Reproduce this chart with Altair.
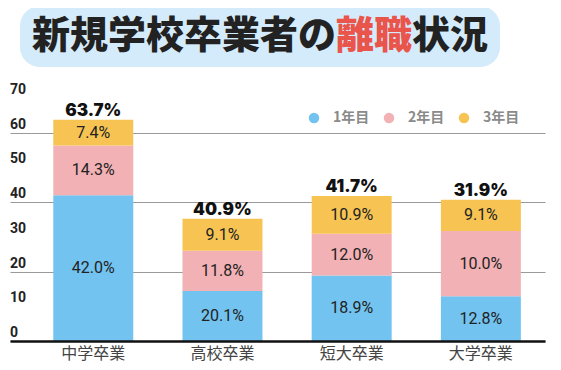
import altair as alt
import pandas as pd

categories = ["中学卒業", "高校卒業", "短大卒業", "大学卒業"]
years = ["1年目", "2年目", "3年目"]
# printed rates (%)
rate_y1 = [42.0, 20.1, 18.9, 12.8]
rate_y2 = [14.3, 11.8, 12.0, 10.0]
rate_y3 = [7.4, 9.1, 10.9, 9.1]
totals = [63.7, 40.9, 41.7, 31.9]
# segment heights as drawn in the picture
drawn_y1 = [42.0, 14.4, 18.9, 12.9]
drawn_y2 = [14.3, 11.6, 12.0, 18.8]
drawn_y3 = [7.4, 9.2, 10.9, 9.0]
y_ticks = [0, 10, 20, 30, 40, 50, 60, 70]
colors = ["#72c3ef", "#f2b1b4", "#f7c453"]
title_parts = ["新規学校卒業者の", "離職", "状況"]

rows = []
for i, c in enumerate(categories):
    base0 = 0.0
    for j, (rates, drawn) in enumerate([(rate_y1, drawn_y1), (rate_y2, drawn_y2), (rate_y3, drawn_y3)]):
        h = drawn[i]
        rows.append({"cat": c, "year": years[j], "ord": j, "y0": base0, "y1": base0 + h,
                     "mid": base0 + h / 2, "label": f"{rates[i]:.1f}%"})
        base0 += h
seg = pd.DataFrame(rows)
tot = pd.DataFrame({"cat": categories,
                    "top": [drawn_y1[i] + drawn_y2[i] + drawn_y3[i] for i in range(4)],
                    "label": [f"{t:.1f}%" for t in totals]})
ydf = pd.DataFrame({"v": y_ticks})
one = pd.DataFrame({"a": [0]})

xscale = alt.Scale(domain=categories, paddingInner=0.381, paddingOuter=0.261, align=0.642)
yscale = alt.Scale(domain=[0, 70], nice=False)

bars = alt.Chart(seg).mark_bar().encode(
    x=alt.X("cat:N", scale=xscale, sort=categories,
            axis=alt.Axis(title=None, labelFontSize=16, labelColor="#444",
                          labelFont="Noto Sans CJK JP", labelPadding=4, ticks=False,
                          domain=True, domainColor="#111", domainWidth=2.5,
                          labelAngle=0, grid=False, zindex=1)),
    y=alt.Y("y0:Q", scale=yscale,
            axis=alt.Axis(title=None, grid=True, labels=False, ticks=False, domain=False,
                          values=y_ticks, gridColor="#9a9a9a", gridWidth=1.2)),
    y2="y1:Q",
    color=alt.Color("year:N", scale=alt.Scale(domain=years, range=colors),
                    legend=alt.Legend(orient="none", legendX=297, legendY=13,
                                      direction="horizontal", title=None,
                                      symbolType="circle", symbolSize=110,
                                      symbolStrokeWidth=0, labelFontSize=14,
                                      labelFontWeight="bold", labelColor="#8a8a8a",
                                      labelFont="Noto Sans CJK JP", columnPadding=12,
                                      labelOffset=12, padding=0, symbolOpacity=1)),
    order=alt.Order("ord:Q"),
)

seg_text = alt.Chart(seg).mark_text(fontSize=16, color="#222", font="Roboto").encode(
    x=alt.X("cat:N", scale=xscale, sort=categories),
    y=alt.Y("mid:Q", scale=yscale),
    text="label:N",
)

tot_text = alt.Chart(tot).mark_text(fontSize=17, font="Inter", fontWeight=900,
                                    color="#111", baseline="alphabetic", dy=-4).encode(
    x=alt.X("cat:N", scale=xscale, sort=categories),
    y=alt.Y("top:Q", scale=yscale),
    text="label:N",
)

y_text = alt.Chart(ydf).mark_text(align="left", baseline="alphabetic", dy=-4, fontSize=14,
                                  fontWeight="bold", color="#222", font="Roboto").encode(
    x=alt.value(0),
    y=alt.Y("v:Q", scale=yscale),
    text="v:Q",
)

title_bg = alt.Chart(one).mark_rect(color="#d4ebfb", cornerRadius=20).encode(
    x=alt.value(10), x2=alt.value(490), y=alt.value(-92), y2=alt.value(-31))

tfont = dict(fontSize=38, font="Noto Sans CJK JP", fontWeight=900, align="left",
             baseline="middle")
t1 = alt.Chart(one).mark_text(color="#222", text=title_parts[0], **tfont).encode(
    x=alt.value(22), y=alt.value(-61))
t2 = alt.Chart(one).mark_text(color="#e9544b", text=title_parts[1], **tfont).encode(
    x=alt.value(326), y=alt.value(-61))
t3 = alt.Chart(one).mark_text(color="#222", text=title_parts[2], **tfont).encode(
    x=alt.value(402), y=alt.value(-61))

chart = alt.layer(title_bg, t1, t2, t3, bars, seg_text, tot_text, y_text).properties(
    width=535, height=243,
    autosize=alt.AutoSizeParams(type="none"),
    padding={"left": 2, "top": 90, "right": 8, "bottom": 22},
).configure_view(stroke=None)

chart.save("out.html", embed_options={"renderer": "svg", "actions": False})
